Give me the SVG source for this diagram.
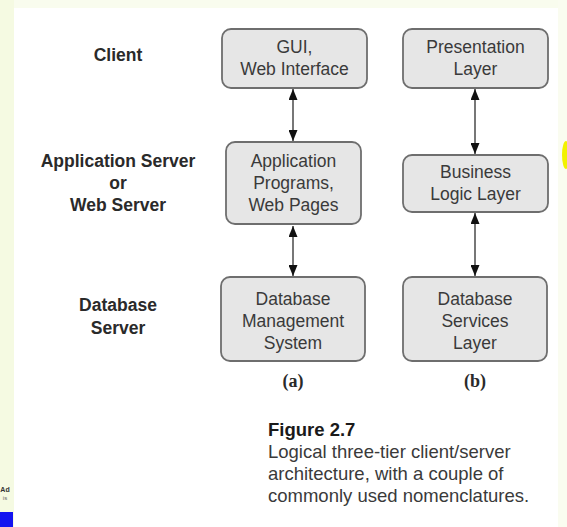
<svg xmlns="http://www.w3.org/2000/svg" width="567" height="527" viewBox="0 0 567 527">
<style>
.box{fill:#e6e6e6;stroke:#6e6e6e;stroke-width:1.8}
.bt{font-family:"Liberation Sans",Arial,sans-serif;font-size:17.5px;fill:#3a3a3a;text-anchor:middle}
.lb{font-family:"Liberation Sans",Arial,sans-serif;font-size:17.5px;font-weight:bold;fill:#2a2a2a;text-anchor:middle}
.sub{font-family:"Liberation Serif","Times New Roman",serif;font-size:18px;font-weight:bold;fill:#2a2a2a;text-anchor:middle}
.cap{font-family:"Liberation Sans",Arial,sans-serif;font-size:18.5px;fill:#3a3a3a}
.capb{font-family:"Liberation Sans",Arial,sans-serif;font-size:18.5px;font-weight:bold;fill:#1a1a1a}
.conn{stroke:#555;stroke-width:1.6;fill:none;marker-start:url(#ah);marker-end:url(#ah)}
</style>
<defs>
<marker id="ah" markerUnits="userSpaceOnUse" markerWidth="11" markerHeight="9" refX="11" refY="4.5" orient="auto-start-reverse">
<path d="M0,0 L11,4.5 L0,9 z" fill="#111"/>
</marker>
</defs>
<rect x="0" y="0" width="567" height="527" fill="#ffffff"/>
<rect x="0" y="0" width="567" height="8" fill="#f9fcee"/>
<rect x="0" y="0" width="14" height="527" fill="#f5fae2"/>
<rect x="558" y="0" width="9" height="527" fill="#fafcf0"/>
<ellipse cx="566" cy="155" rx="4" ry="14" fill="#f2f200"/>
<rect x="0" y="512" width="13" height="15" fill="#1414f0"/>
<text x="5" y="492" font-family="Liberation Sans,sans-serif" font-size="7" font-weight="bold" fill="#333" text-anchor="middle">Ad</text>
<text x="5" y="500" font-family="Liberation Sans,sans-serif" font-size="6" fill="#666" text-anchor="middle">is</text>

<g id="labels">
<text class="lb" x="118" y="61">Client</text>
<text class="lb" x="118" y="167">Application Server</text>
<text class="lb" x="118" y="189">or</text>
<text class="lb" x="118" y="211">Web Server</text>
<text class="lb" x="118" y="311">Database</text>
<text class="lb" x="118" y="334">Server</text>
</g>

<g id="connectors">
<line class="conn" x1="293" y1="89" x2="293" y2="141"/>
<line class="conn" x1="293" y1="226" x2="293" y2="276"/>
<line class="conn" x1="475" y1="89" x2="475" y2="154"/>
<line class="conn" x1="475" y1="213" x2="475" y2="276"/>
</g>

<g id="gui">
<rect class="box" x="222" y="29" width="145" height="59" rx="9"/>
<text class="bt" x="294.5" y="53">GUI,</text>
<text class="bt" x="294.5" y="75">Web Interface</text>
</g>
<g id="app">
<rect class="box" x="226" y="142" width="135" height="82" rx="9"/>
<text class="bt" x="293.5" y="167">Application</text>
<text class="bt" x="293.5" y="189">Programs,</text>
<text class="bt" x="293.5" y="211">Web Pages</text>
</g>
<g id="dbms">
<rect class="box" x="221" y="277" width="144" height="84" rx="9"/>
<text class="bt" x="293" y="305">Database</text>
<text class="bt" x="293" y="327">Management</text>
<text class="bt" x="293" y="349">System</text>
</g>
<g id="pres">
<rect class="box" x="403" y="29" width="145" height="59" rx="9"/>
<text class="bt" x="475.5" y="53">Presentation</text>
<text class="bt" x="475.5" y="75">Layer</text>
</g>
<g id="biz">
<rect class="box" x="403" y="155" width="145" height="57" rx="9"/>
<text class="bt" x="475.5" y="178">Business</text>
<text class="bt" x="475.5" y="200">Logic Layer</text>
</g>
<g id="dbs">
<rect class="box" x="403" y="277" width="144" height="84" rx="9"/>
<text class="bt" x="475" y="305">Database</text>
<text class="bt" x="475" y="327">Services</text>
<text class="bt" x="475" y="349">Layer</text>
</g>

<g id="captions">
<text class="sub" x="293" y="387">(a)</text>
<text class="sub" x="475" y="387">(b)</text>
<text class="capb" x="268" y="436">Figure 2.7</text>
<text class="cap" x="268" y="458">Logical three-tier client/server</text>
<text class="cap" x="268" y="480">architecture, with a couple of</text>
<text class="cap" x="268" y="502">commonly used nomenclatures.</text>
</g>
</svg>
